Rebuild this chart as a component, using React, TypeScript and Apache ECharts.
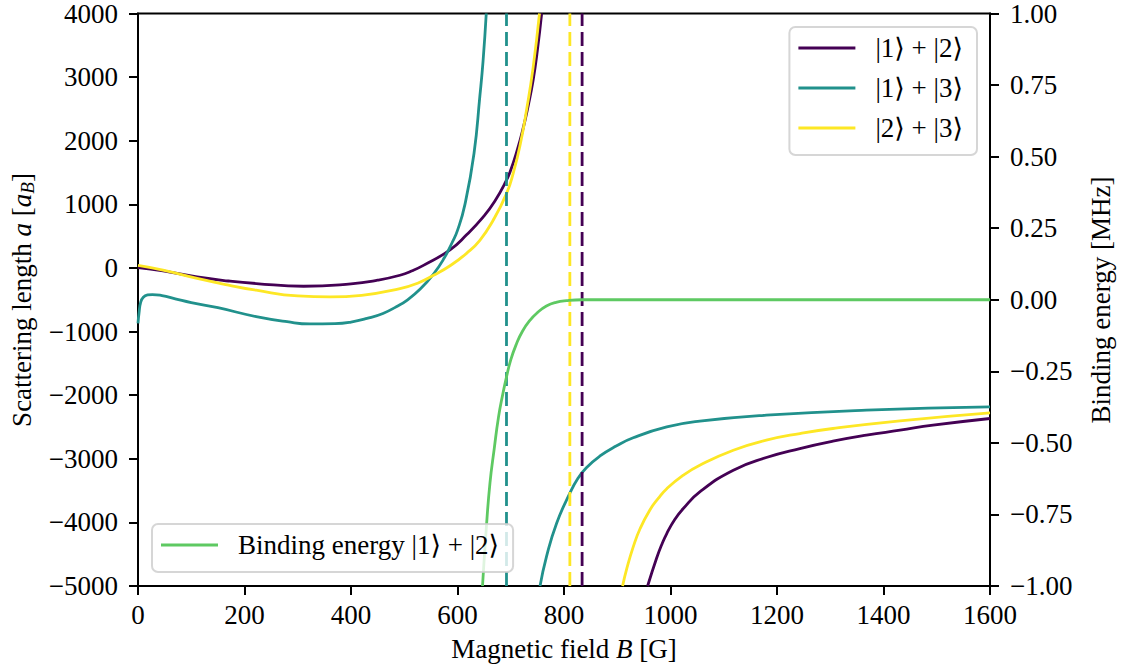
import React, { useEffect, useRef } from "react";
import * as echarts from "echarts";

// ---- data ----
// Scattering length a [a_B] vs magnetic field B [G]
const a12Below: [number, number][] = [
  [0, 5], [47, -45], [111, -141], [170, -205], [222, -245], [311, -288], [400, -250],
  [450, -193], [492, -115], [515, -45], [536, 40], [586, 285], [617, 520], [648, 800],
  [670, 1050], [692, 1380], [700, 1540], [711, 1820], [722, 2150], [733, 2560], [742, 2950],
  [750, 3420], [758, 4000],
];
const a12Above: [number, number][] = [
  [957, -5000], [974, -4560], [983, -4360], [993, -4175], [1008, -3954], [1024, -3782],
  [1055, -3520], [1118, -3179], [1180, -2980], [1243, -2839], [1305, -2724], [1368, -2629],
  [1431, -2551], [1493, -2472], [1600, -2367],
];
const a13Below: [number, number][] = [
  [0, -870], [2, -700], [5, -540], [10, -460], [18, -425], [27, -418], [45, -435], [70, -485],
  [100, -545], [150, -625], [222, -765], [280, -845], [323, -880], [370, -875], [400, -850],
  [430, -794], [460, -715], [486, -605], [505, -509], [530, -332], [555, -95], [575, 155],
  [590, 400], [600, 590], [614, 1000], [631, 1800], [642, 2700], [648, 3250], [654, 4000],
];
const a13Above: [number, number][] = [
  [755, -5000], [767, -4542], [786, -4017], [811, -3540], [826, -3310], [842, -3140],
  [867, -2960], [898, -2800], [930, -2670], [993, -2500], [1055, -2409], [1180, -2315],
  [1368, -2236], [1600, -2185],
];
const a23Below: [number, number][] = [
  [0, 40], [47, -35], [111, -165], [170, -270], [222, -350], [300, -440], [361, -456],
  [420, -430], [492, -324], [525, -240], [555, -115], [586, 35], [617, 230], [642, 435],
  [667, 750], [692, 1169], [705, 1500], [718, 1950], [730, 2500], [742, 3150], [754, 4000],
];
const a23Above: [number, number][] = [
  [910, -5000], [918, -4724], [930, -4385], [943, -4096], [961, -3808], [977, -3624],
  [993, -3470], [1024, -3258], [1055, -3101], [1118, -2865], [1180, -2708], [1243, -2603],
  [1305, -2524], [1431, -2404], [1600, -2279],
];
// Binding energy [MHz] of |1> + |2>
const binding12: [number, number][] = [
  [647, -1.0], [654, -0.8], [661, -0.64], [669, -0.52], [677, -0.41], [685, -0.33],
  [692, -0.27], [700, -0.21], [711, -0.153], [722, -0.11], [736, -0.072], [750, -0.045],
  [767, -0.022], [785, -0.009], [805, -0.003], [834, 0], [1600, 0],
];
// Resonance positions [G]
const resonance12 = [834];
const resonance13 = [692];
const resonance23 = [811];

const names = ["|1⟩ + |2⟩", "|1⟩ + |3⟩", "|2⟩ + |3⟩"];
const bindingName = "Binding energy |1⟩ + |2⟩";

const C12 = "#440154";
const C13 = "#21918c";
const C23 = "#fde725";
const CB = "#5ec962";
const FONT = "'Liberation Serif', 'DejaVu Serif', serif";
const FS = 27;

const minusFmt = (v: number, digits: number) => {
  const s = digits > 0 ? Math.abs(v).toFixed(digits) : String(Math.round(Math.abs(v)));
  return (v < 0 ? "\u2212" : "") + s;
};

export default function App() {
  const ref = useRef<HTMLDivElement>(null);
  useEffect(() => {
    if (!ref.current) return;
    const chart = echarts.init(ref.current, null, { renderer: "svg" });
    const curve = (name: string, data: [number, number][], color: string, yAxisIndex = 0) => ({
      type: "line",
      name,
      data,
      yAxisIndex,
      symbol: "none",
      showSymbol: false,
      smooth: 0.5,
      color,
      itemStyle: { color },
      lineStyle: { color, width: 2.8 },
      clip: true,
      silent: true,
    });
    const vline = (b: number, color: string) => ({
      type: "line",
      name: "resonance " + b,
      data: [[b, -5000], [b, 4000]],
      symbol: "none",
      showSymbol: false,
      lineStyle: { color, width: 2.8, type: [14, 6] },
      clip: true,
      silent: true,
    });
    const axisCommon = {
      type: "value",
      axisLine: { show: true, onZero: false, lineStyle: { color: "#000", width: 2 } },
      axisTick: { show: true, inside: false, length: 9, lineStyle: { color: "#000", width: 2 } },
      splitLine: { show: false },
    };
    const labelCommon = { fontFamily: FONT, fontSize: FS, color: "#000", showMinLabel: true, showMaxLabel: true };
    const legendCommon = {
      orient: "vertical",
      icon: "rect",
      itemWidth: 57,
      itemHeight: 3,
      itemGap: 10,
      selectedMode: false,
      backgroundColor: "rgba(255,255,255,0.8)",
      borderColor: "rgba(204,204,204,0.8)",
      borderWidth: 2,
      borderRadius: 6,
      padding: [6, 14, 12, 9],
      textStyle: { fontFamily: FONT, fontSize: FS, color: "#000", lineHeight: 30, padding: [0, 0, 0, 15] },
    };
    const richBase = { fontFamily: FONT, fontSize: FS, fill: "#000", lineHeight: 30 };
    chart.setOption({
      animation: false,
      backgroundColor: "#fff",
      grid: { left: 138, right: 134, top: 13, bottom: 82, show: true, borderColor: "#000", borderWidth: 2, backgroundColor: "transparent" },
      xAxis: {
        ...axisCommon,
        min: 0,
        max: 1600,
        interval: 200,
        axisLabel: { ...labelCommon, margin: 15, formatter: (v: number) => minusFmt(v, 0) },
      },
      yAxis: [
        {
          ...axisCommon,
          position: "left",
          min: -5000,
          max: 4000,
          interval: 1000,
          axisLabel: { ...labelCommon, margin: 20, formatter: (v: number) => minusFmt(v, 0) },
        },
        {
          ...axisCommon,
          position: "right",
          min: -1,
          max: 1,
          interval: 0.25,
          axisLabel: { ...labelCommon, margin: 20, formatter: (v: number) => minusFmt(v, 2) },
        },
      ],
      legend: [
        { ...legendCommon, right: 147, top: 27, data: names },
        { ...legendCommon, left: 152, top: 524, data: [bindingName] },
      ],
      series: [
        curve(names[0], a12Below, C12),
        curve(names[0], a12Above, C12),
        curve(names[1], a13Below, C13),
        curve(names[1], a13Above, C13),
        curve(names[2], a23Below, C23),
        curve(names[2], a23Above, C23),
        ...resonance13.map((b) => vline(b, C13)),
        ...resonance23.map((b) => vline(b, C23)),
        ...resonance12.map((b) => vline(b, C12)),
        curve(bindingName, binding12, CB, 1),
      ],
      graphic: [
        {
          type: "text",
          x: 564,
          y: 649,
          silent: true,
          style: {
            text: "{r|Magnetic field }{i|B}{r| [G]}",
            align: "center",
            verticalAlign: "middle",
            rich: {
              r: { ...richBase },
              i: { ...richBase, fontStyle: "italic" },
            },
          },
        },
        {
          type: "text",
          x: 22,
          y: 300,
          rotation: Math.PI / 2,
          silent: true,
          style: {
            text: "{r|Scattering length }{i|a}{r| [}{i|a}{s|B}{r|]}",
            align: "center",
            verticalAlign: "middle",
            rich: {
              r: { ...richBase },
              i: { ...richBase, fontStyle: "italic" },
              s: { fontFamily: FONT, fontSize: 19, fill: "#000", fontStyle: "italic", lineHeight: 16, verticalAlign: "bottom" },
            },
          },
        },
        {
          type: "text",
          x: 1101,
          y: 300,
          rotation: Math.PI / 2,
          silent: true,
          style: {
            text: "Binding energy [MHz]",
            fontFamily: FONT,
            fontSize: FS,
            fill: "#000",
            align: "center",
            verticalAlign: "middle",
          },
        },
      ],
    });
    return () => chart.dispose();
  }, []);
  return (
    <div
      ref={ref}
      style={{ position: "fixed", left: 0, top: 0, width: 1124, height: 668, background: "#fff" }}
    />
  );
}
